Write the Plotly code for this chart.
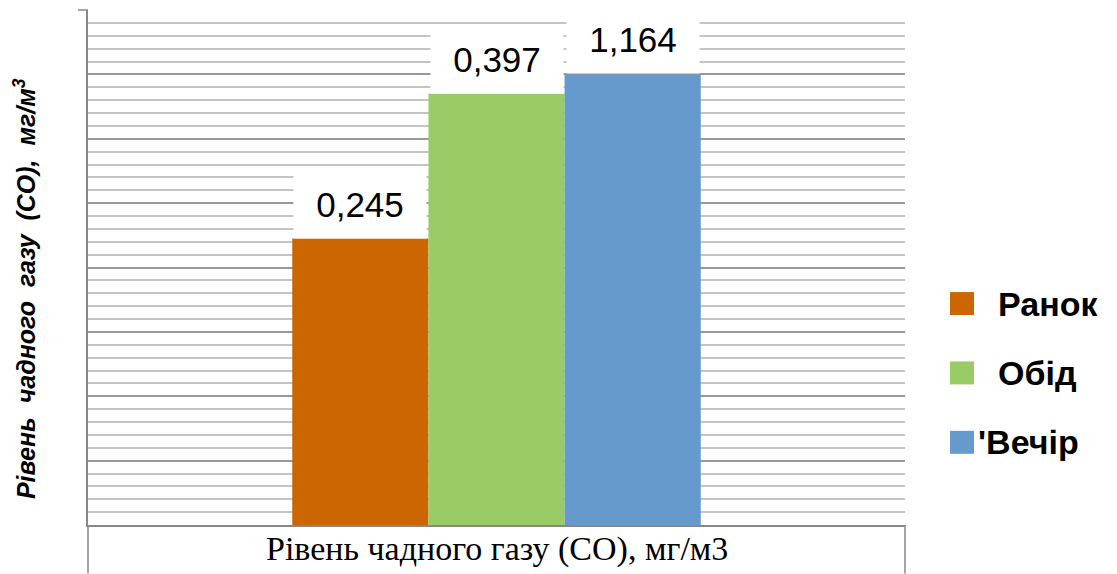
import plotly.graph_objects as go

# ---- data ----
category = ["Рівень чадного газу (СО), мг/м3"]
series_names = ["Ранок", "Обід", "Вечір"]
legend_labels = ["Ранок", "Обід", "'Вечір"]
value_labels = ["0,245", "0,397", "1,164"]          # printed values
bar_heights = [4.45, 6.70, 7.0]                     # drawn heights (hidden axis units)
colors = ["#CC6600", "#99CC66", "#6699CC"]
y_title = "Рівень  чадного  газу  (СО),  мг/м<sup>3</sup>"

W, H = 1117, 574
L, R, T, B = 88, 905, 9.5, 525.3

fig = go.Figure()
for name, h, c in zip(series_names, bar_heights, colors):
    fig.add_trace(go.Bar(x=category, y=[h], name=name, marker=dict(color=c, line=dict(width=0)),
                         showlegend=False))

n = len(series_names)
offsets = [(i - (n - 1) / 2) * (0.5 / n) for i in range(n)]
for off, h, lab in zip(offsets, bar_heights, value_labels):
    fig.add_annotation(x=off, y=h, xref="x", yref="y", text=lab, showarrow=False,
                       yanchor="bottom", xanchor="center",
                       font=dict(family="Liberation Sans, Arial", size=35, color="black"),
                       bgcolor="white", width=110, height=45, borderpad=11)

# category label (drawn as annotation to control its placement)
fig.add_annotation(x=0, xref="x", yref="paper", y=(B - 549) / (B - T), text=category[0],
                   showarrow=False, xanchor="center", yanchor="middle",
                   font=dict(family="Liberation Serif, Times New Roman", size=34, color="black"))

# legend drawn manually
leg_y = [303.5, 373, 442.5]
for (lab, c, yy) in zip(legend_labels, colors, leg_y):
    fig.add_shape(type="rect", xref="paper", yref="paper",
                  x0=(950 - L) / (R - L), x1=(974 - L) / (R - L),
                  y0=(B - (yy + 11.5)) / (B - T), y1=(B - (yy - 11.5)) / (B - T),
                  fillcolor=c, line=dict(width=0))
    xs = 976 if lab.startswith("'") else 996
    fig.add_annotation(xref="paper", yref="paper", x=(xs - L) / (R - L),
                       y=(B - yy) / (B - T), text="<b>" + lab + "</b>", showarrow=False,
                       xanchor="left", yanchor="middle",
                       font=dict(family="Liberation Sans, Arial", size=34, color="black"))

# y title
fig.add_annotation(xref="paper", yref="paper", x=(25 - L) / (R - L), y=(B - 289) / (B - T),
                   text="<b><i>" + y_title + "</i></b>", textangle=-90, showarrow=False,
                   xanchor="center", yanchor="middle",
                   font=dict(family="Liberation Sans, Arial", size=25, color="black"))

# category box lines below baseline
for xx in [0, 1]:
    fig.add_shape(type="line", xref="paper", yref="paper", x0=xx, x1=xx,
                  y0=(B - H) / (B - T), y1=0, line=dict(color="#888888", width=1.5))
fig.add_shape(type="line", xref="paper", yref="paper", x0=-(L - 78) / (R - L), x1=0,
              y0=1, y1=1, line=dict(color="#888888", width=1.5))

fig.update_layout(
    width=W, height=H,
    margin=dict(l=L, r=W - R, t=T, b=H - B, autoexpand=False),
    paper_bgcolor="white", plot_bgcolor="white",
    barmode="group", bargap=0.5, bargroupgap=0,
    xaxis=dict(type="category", range=[-0.5, 0.5], showgrid=False, ticks="",
               automargin=False, showticklabels=False,
               showline=True, linecolor="#888888", linewidth=1.5, zeroline=False),
    yaxis=dict(range=[0, 8], dtick=1, showticklabels=False, ticks="", automargin=False,
               showgrid=True, gridcolor="#999999", gridwidth=1.5,
               minor=dict(dtick=0.2, showgrid=True, gridcolor="#c4c4c4", gridwidth=1.5),
               showline=True, linecolor="#888888", linewidth=1.5, zeroline=False),
)

fig.write_html("out.html")
